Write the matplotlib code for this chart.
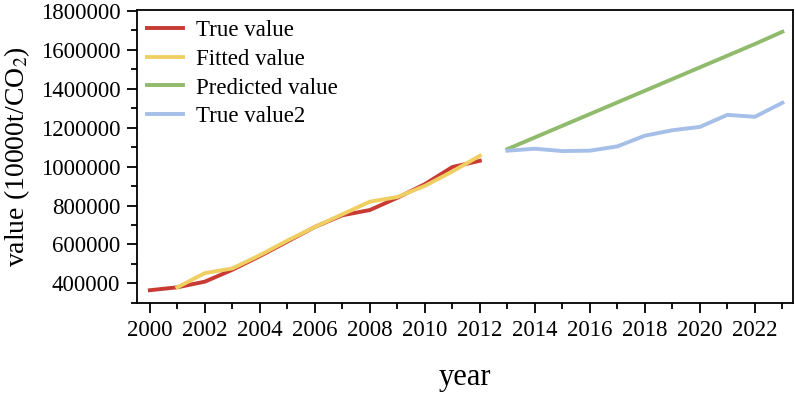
import numpy as np
import matplotlib
matplotlib.use('Agg')
import matplotlib.pyplot as plt
from matplotlib.ticker import MultipleLocator, FormatStrFormatter

plt.rcParams['font.family'] = ['Liberation Serif', 'DejaVu Serif']
plt.rcParams['mathtext.fontset'] = 'stix'

years_true = list(range(2000, 2013))
true_value = [365000, 380000, 409000, 470000, 540000, 615000, 690000,
              750000, 777000, 840000, 910000, 998000, 1030000]

years_fit = list(range(2001, 2013))
fitted_value = [380000, 453000, 477000, 545000, 620000, 690000, 755000,
                820000, 844000, 901000, 975000, 1056000]

years_pred = list(range(2013, 2024))
predicted_value = [1090000, 1150000, 1210000, 1270000, 1330000, 1390000,
                   1450000, 1510000, 1570000, 1630000, 1693000]
true_value2 = [1082000, 1092000, 1080000, 1082000, 1104000, 1159000,
               1187000, 1204000, 1266000, 1256000, 1328000]

fig = plt.figure(figsize=(7.96, 3.98), dpi=100)
ax = fig.add_axes([0.172, 0.239, 0.824, 0.736])

lw = 2.8
ax.plot(years_true, true_value, color='#c83b33', lw=lw, label='True value')
ax.plot(years_fit, fitted_value, color='#f0cf62', lw=lw, label='Fitted value')
ax.plot(years_pred, predicted_value, color='#91bb6c', lw=lw, label='Predicted value')
ax.plot(years_pred, true_value2, color='#a6bfe9', lw=lw, label='True value2')

ax.set_xlim(1999.53, 2023.38)
ax.set_ylim(300000, 1805000)
ax.xaxis.set_major_locator(MultipleLocator(2))
ax.xaxis.set_minor_locator(MultipleLocator(1))
ax.yaxis.set_major_locator(MultipleLocator(200000))
ax.yaxis.set_minor_locator(MultipleLocator(100000))
ax.yaxis.set_major_formatter(FormatStrFormatter('%d'))
ax.tick_params(which='both', direction='out', width=1.3, labelsize=16.5)
ax.tick_params(which='major', length=7, pad=5)
ax.tick_params(which='minor', length=4.5)
for s in ax.spines.values():
    s.set_linewidth(1.3)

ax.set_xlabel('year', fontsize=22, labelpad=16)
ax.set_ylabel(r'value (10000t/CO$_2$)', fontsize=20, labelpad=6)

ax.legend(loc='upper left', frameon=False, fontsize=16.5, handlelength=1.55,
          borderaxespad=0.05, labelspacing=0.33, handletextpad=0.6)

fig.savefig('out.png', dpi=100)
